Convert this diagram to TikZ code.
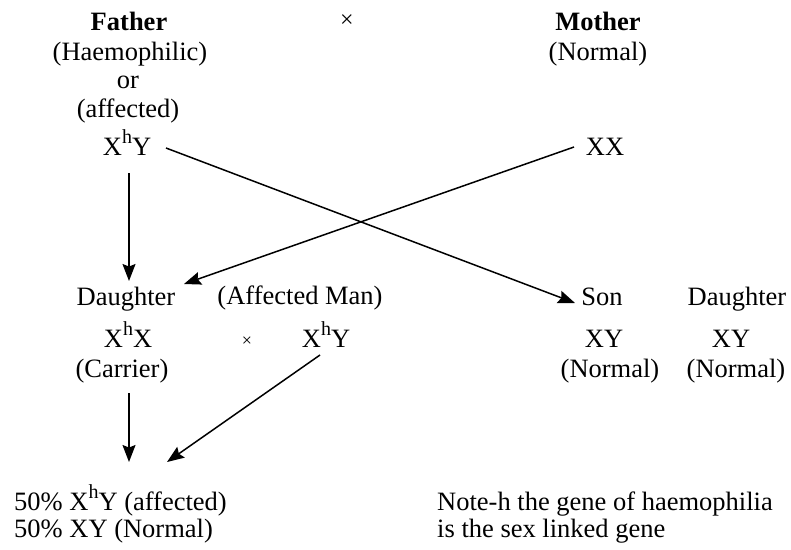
\documentclass[tikz,border=0pt]{standalone}
\usepackage{fontspec}
\setmainfont{Liberation Serif}
\usetikzlibrary{arrows.meta}
\newcommand{\hsup}{\raisebox{0.42em}{\fontsize{20}{20}\selectfont h}}
\tikzset{
  txt/.style={anchor=base, inner sep=0pt, font=\fontsize{26.5}{29}\selectfont},
  txtl/.style={anchor=base west, inner sep=0pt, align=left, font=\fontsize{26.5}{28}\selectfont},
  arr/.style={line width=1.5pt, -{Stealth[length=17pt,width=13pt,inset=2.5pt]}}
}
\begin{document}
\begin{tikzpicture}[x=1pt,y=-1pt]
\useasboundingbox (0,0) rectangle (791,549);
% parents
\node[txt, font=\fontsize{26.5}{29}\selectfont\bfseries] (father) at (129,30) {Father};
\node[txt] (haem) at (130,60) {(Haemophilic)};
\node[txt] (or) at (128,88) {or};
\node[txt] (aff) at (128,117) {(affected)};
\node[txt] (fg) at (127,155) {X\hsup Y};
\node[txt, font=\fontsize{24}{24}\selectfont] (cross1) at (347,27) {×};
\node[txt, font=\fontsize{26.5}{29}\selectfont\bfseries] (mother) at (598,30) {Mother};
\node[txt] (mnorm) at (598,60) {(Normal)};
\node[txt] (mg) at (605,155) {XX};
% F1
\node[txt] (dau) at (126,305) {Daughter};
\node[txt] (dg) at (128,347) {X\hsup X};
\node[txt] (carrier) at (122,377) {(Carrier)};
\node[txt, font=\fontsize{18}{18}\selectfont] (cross2) at (247,346) {×};
\node[txt] (affman) at (300,304) {(Affected Man)};
\node[txt] (amg) at (326,347) {X\hsup Y};
\node[txt] (son) at (602,305) {Son};
\node[txt] (sg) at (604,347) {XY};
\node[txt] (snorm) at (610,377) {(Normal)};
\node[txt] (dau2) at (737,305) {Daughter};
\node[txt] (d2g) at (731,347) {XY};
\node[txt] (d2norm) at (736,377) {(Normal)};
% results
\node[txtl] (res1) at (14,510) {50\% X\hsup Y (affected)};
\node[txtl] (res2) at (14,537) {50\% XY (Normal)};
\node[txtl] (note1) at (437,510) {Note-h the gene of haemophilia};
\node[txtl] (note2) at (437,537) {is the sex linked gene};
% connectors
\draw[arr] ([shift={(39,-7)}]fg.base) -- ([shift={(-27,-2)}]son.base);
\draw[arr] ([shift={(-31,-8)}]mg.base) -- ([shift={(58,-21)}]dau.base);
\draw[arr] ([shift={(2,18)}]fg.base) -- ([shift={(3,-24)}]dau.base);
\draw[arr] ([shift={(7,16)}]carrier.base) -- ([shift={(115,-48)}]res1.base west);
\draw[arr] ([shift={(-6,8)}]amg.base) -- ([shift={(153,-48)}]res1.base west);
\end{tikzpicture}
\end{document}
